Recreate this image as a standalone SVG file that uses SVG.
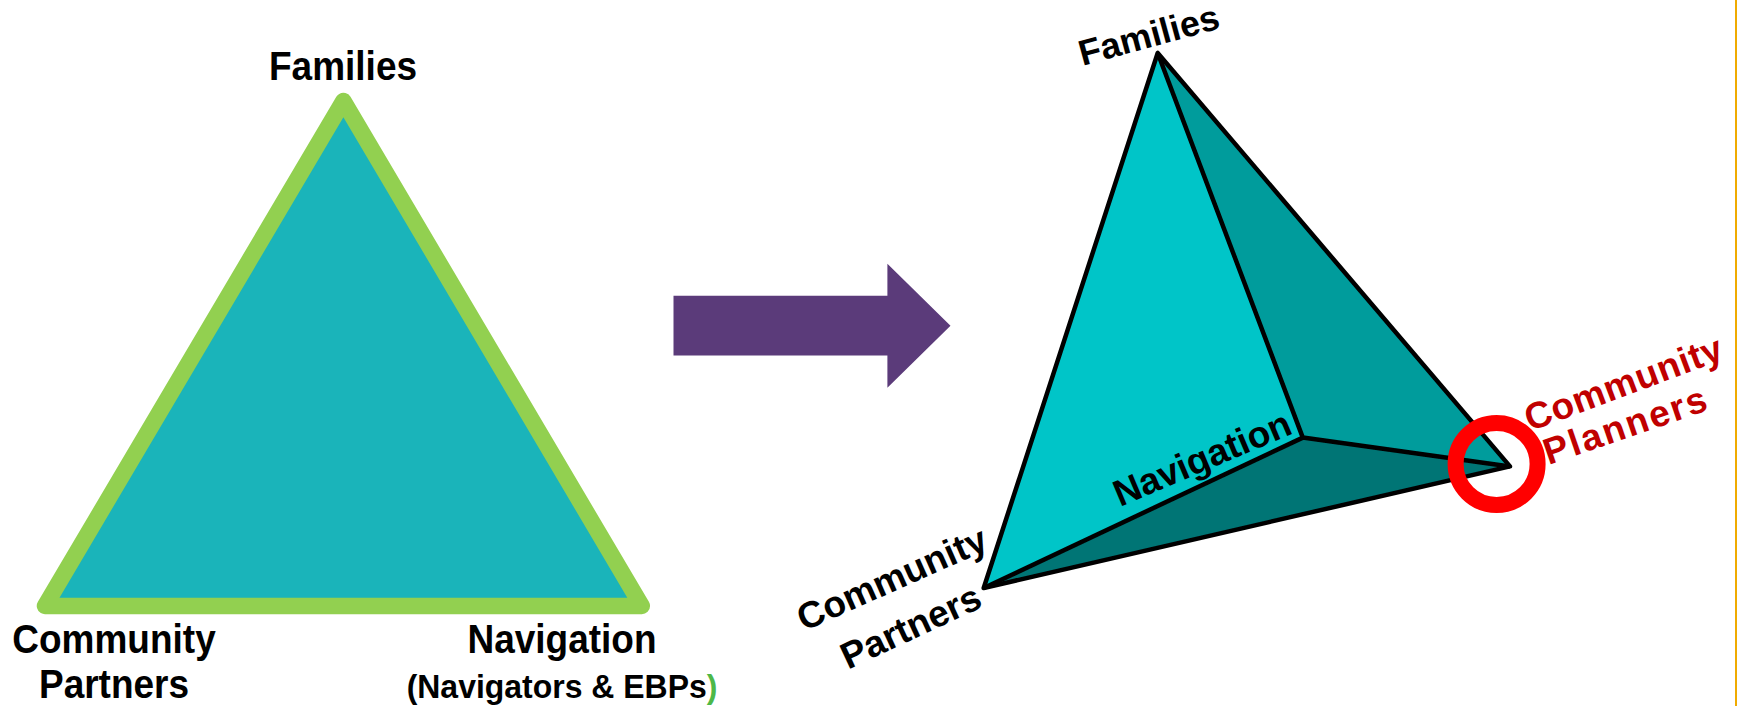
<svg xmlns="http://www.w3.org/2000/svg" width="1737" height="706" viewBox="0 0 1737 706">
<defs><filter id="soft" x="-5%" y="-5%" width="110%" height="110%"><feGaussianBlur stdDeviation="0.7"/></filter></defs>
<style>
text{font-family:"Liberation Sans",Arial,sans-serif;font-weight:700;fill:#000}
.m{text-anchor:middle}
.l{font-size:40px}
.r{font-size:37px}
.red{fill:#C00000}
.e{stroke:#000;stroke-width:4.5;stroke-linejoin:round;fill:none}
</style>
<rect width="1737" height="706" fill="#fff"/>
<rect x="1735" y="0" width="2" height="706" fill="#F0AB00"/>
<g id="flat-triangle">
<polygon points="343.4,101 45,606 641.8,606" fill="#1AB4BA" stroke="#92D050" stroke-width="16.5" stroke-linejoin="round"/>
</g>
<g id="flat-families"><text class="l m" transform="translate(343,80) scale(.925,1)">Families</text></g>
<g id="flat-community"><text class="l m" transform="translate(114,653) scale(.925,1)">Community</text><text class="l m" transform="translate(114,698) scale(.925,1)">Partners</text></g>
<g id="flat-navigation"><text class="l m" transform="translate(562,653) scale(.925,1)">Navigation</text><text class="m" font-size="34" transform="translate(562,698) scale(.94,1)">(Navigators &amp; EBPs<tspan fill="#4DB848">)</tspan></text></g>
<g id="connectors">
<polygon points="673.5,295.8 887.4,295.8 887.4,263.7 950.5,325.7 887.4,387.7 887.4,355.6 673.5,355.6" fill="#5B3B7A"/>
</g>
<g id="pyramid" filter="url(#soft)">
<polygon points="1157.7,53 983.7,588 1302.8,437.6" fill="#00C5C8"/>
<polygon points="1157.7,53 1510,466.4 1302.8,437.6" fill="#009C9C"/>
<polygon points="983.7,588 1510,466.4 1302.8,437.6" fill="#007474"/>
<polygon class="e" points="1157.7,53 983.7,588 1510,466.4"/>
<polyline class="e" points="1157.7,53 1302.8,437.6 1510,466.4"/>
<line class="e" x1="983.7" y1="588" x2="1302.8" y2="437.6"/>
</g>
<g id="marker"><circle cx="1496.6" cy="464" r="41" fill="none" stroke="#FF0000" stroke-width="16"/></g>
<g id="tip-families"><text class="m" font-size="36" transform="translate(1152,47) rotate(-15.2)">Families</text></g>
<g id="tip-community"><text class="r m" transform="translate(897,590) rotate(-24)">Community</text><text class="r m" transform="translate(916,638) rotate(-25)">Partners</text></g>
<g id="tip-navigation"><text class="r m" transform="translate(1207,470) rotate(-23)">Navigation</text></g>
<g id="tip-planners"><text class="r m red" transform="translate(1628,395) rotate(-20.5)" letter-spacing=".6">Community</text><text class="r m red" transform="translate(1630,437) rotate(-19)" letter-spacing="2">Planners</text></g>
</svg>
